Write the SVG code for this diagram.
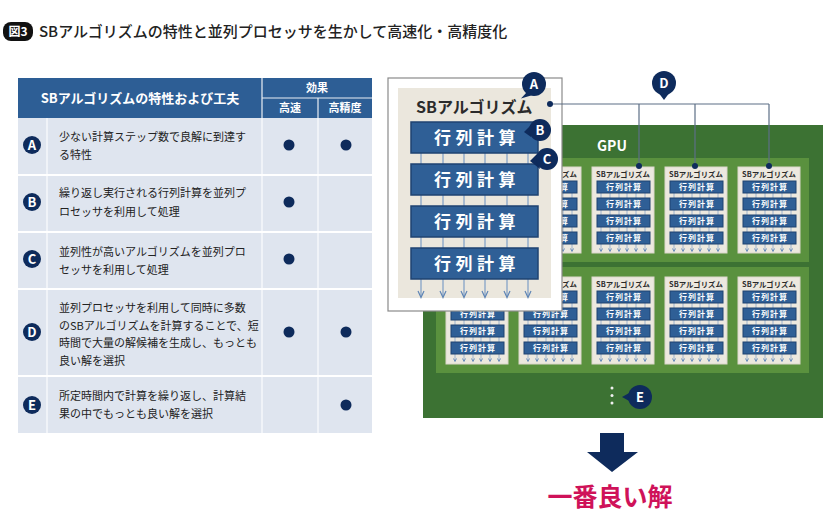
<svg xmlns="http://www.w3.org/2000/svg" xmlns:xlink="http://www.w3.org/1999/xlink" width="840" height="532" viewBox="0 0 840 532">
<style>
text{font-family:"Noto Sans CJK JP","Noto Sans",sans-serif}
.title{font-size:15px;font-weight:500;fill:#222}
.th{fill:#fff;font-weight:700;text-anchor:middle}
.row{font-size:11px;fill:#222}
.navy{fill:#0e2b5c}
.lt{fill:#fff;font-size:13px;font-weight:700;text-anchor:middle}
.dot{fill:#0e2b5c}
.card{fill:#ece8df;stroke:#dcd7cb;stroke-width:1}
.ct{font-size:7.4px;font-weight:700;fill:#2b2b2b;text-anchor:middle}
.mb{fill:#2f5f96;stroke:#1f4371;stroke-width:1}
.mt{font-size:8px;font-weight:700;fill:#fff;text-anchor:middle;letter-spacing:1px}
.bb{fill:#2f5f96;stroke:#1f4371;stroke-width:1.5}
.bt{font-size:17px;font-weight:700;fill:#fff;text-anchor:middle;letter-spacing:4.5px}
.conn{stroke:#5d6f86;stroke-width:1.2;fill:none}
</style>
<defs>
<g id="mini">
<path d="M9 14V84M18 14V84M27 14V84M35 14V84M44 14V84M53 14V84" stroke="#88a4c8" stroke-width="0.8" fill="none"/>
<path d="M7.5 81.5L9 84.5L10.5 81.5M16.5 81.5L18 84.5L19.5 81.5M25.5 81.5L27 84.5L28.5 81.5M33.5 81.5L35 84.5L36.5 81.5M42.5 81.5L44 84.5L45.5 81.5M51.5 81.5L53 84.5L54.5 81.5" stroke="#5f85b5" stroke-width="0.9" fill="none"/>
</g>
</defs>

<g id="title">
<rect x="3" y="22" width="30" height="19" rx="8" fill="#111"/>
<text x="18" y="36" font-size="12" font-weight="700" fill="#fff" text-anchor="middle">図3</text>
<text class="title" x="39" y="37">SBアルゴリズムの特性と並列プロセッサを生かして高速化・高精度化</text>
</g>

<g id="table">
<rect x="18" y="78" width="354" height="40" fill="#2d5e95"/>
<rect x="18" y="118" width="354" height="315" fill="#dfe5ef"/>
<g stroke="#fff" fill="none">
<path d="M262 78V433M262 98H372M318 98V433M47 118V433" stroke-width="1.2" stroke-opacity="0.9"/>
<path d="M18 175H372M18 232H372M18 289H372M18 376H372" stroke-width="2"/>
</g>
<text class="th" x="140" y="103" font-size="13">SBアルゴリズムの特性および工夫</text>
<text class="th" x="317" y="92" font-size="11">効果</text>
<text class="th" x="290" y="112" font-size="11">高速</text>
<text class="th" x="345" y="112" font-size="11">高精度</text>
</g>

<g id="rowA">
<circle class="navy" cx="32" cy="145" r="9"/><text class="lt" x="32" y="149.5">A</text>
<text class="row" x="59" y="141">少ない計算ステップ数で良解に到達す</text>
<text class="row" x="59" y="159">る特性</text>
<circle class="dot" cx="289" cy="145" r="5.5"/><circle class="dot" cx="346" cy="145" r="5.5"/>
</g>
<g id="rowB">
<circle class="navy" cx="32" cy="202" r="9"/><text class="lt" x="32" y="206.5">B</text>
<text class="row" x="59" y="197">繰り返し実行される行列計算を並列プ</text>
<text class="row" x="59" y="216">ロセッサを利用して処理</text>
<circle class="dot" cx="289" cy="202" r="5.5"/>
</g>
<g id="rowC">
<circle class="navy" cx="32" cy="259" r="9"/><text class="lt" x="32" y="263.5">C</text>
<text class="row" x="59" y="256">並列性が高いアルゴリズムを並列プロ</text>
<text class="row" x="59" y="274">セッサを利用して処理</text>
<circle class="dot" cx="289" cy="259" r="5.5"/>
</g>
<g id="rowD">
<circle class="navy" cx="32" cy="332" r="9"/><text class="lt" x="32" y="336.5">D</text>
<text class="row" x="59" y="312">並列プロセッサを利用して同時に多数</text>
<text class="row" x="59" y="330">のSBアルゴリズムを計算することで、短</text>
<text class="row" x="59" y="347">時間で大量の解候補を生成し、もっとも</text>
<text class="row" x="59" y="365">良い解を選択</text>
<circle class="dot" cx="289" cy="332" r="5.5"/><circle class="dot" cx="346" cy="332" r="5.5"/>
</g>
<g id="rowE">
<circle class="navy" cx="32" cy="405" r="9"/><text class="lt" x="32" y="409.5">E</text>
<text class="row" x="59" y="400">所定時間内で計算を繰り返し、計算結</text>
<text class="row" x="59" y="418">果の中でもっとも良い解を選択</text>
<circle class="dot" cx="346" cy="405" r="5.5"/>
</g>

<g id="gpu">
<rect x="423" y="125" width="400" height="293" fill="#3c7233"/>
<rect x="436" y="158" width="373" height="104" fill="#5a913e"/>
<rect x="436" y="267" width="373" height="106" fill="#5a913e"/>
<text x="597" y="151" font-size="14" font-weight="700" fill="#fff">GPU</text>
</g>

<g id="card2" transform="translate(519,167)"><rect class="card" width="62" height="86"/><use href="#mini"/><text class="ct" x="31" y="10">SBアルゴリズム</text><rect class="mb" x="5" y="14" width="53" height="12"/><text class="mt" x="32" y="23">行列計算</text><rect class="mb" x="5" y="31" width="53" height="12"/><text class="mt" x="32" y="40">行列計算</text><rect class="mb" x="5" y="48" width="53" height="12"/><text class="mt" x="32" y="57">行列計算</text><rect class="mb" x="5" y="65" width="53" height="12"/><text class="mt" x="32" y="74">行列計算</text></g>
<g id="card3" transform="translate(592,167)"><rect class="card" width="62" height="86"/><use href="#mini"/><text class="ct" x="31" y="10">SBアルゴリズム</text><rect class="mb" x="5" y="14" width="53" height="12"/><text class="mt" x="32" y="23">行列計算</text><rect class="mb" x="5" y="31" width="53" height="12"/><text class="mt" x="32" y="40">行列計算</text><rect class="mb" x="5" y="48" width="53" height="12"/><text class="mt" x="32" y="57">行列計算</text><rect class="mb" x="5" y="65" width="53" height="12"/><text class="mt" x="32" y="74">行列計算</text></g>
<g id="card4" transform="translate(665,167)"><rect class="card" width="62" height="86"/><use href="#mini"/><text class="ct" x="31" y="10">SBアルゴリズム</text><rect class="mb" x="5" y="14" width="53" height="12"/><text class="mt" x="32" y="23">行列計算</text><rect class="mb" x="5" y="31" width="53" height="12"/><text class="mt" x="32" y="40">行列計算</text><rect class="mb" x="5" y="48" width="53" height="12"/><text class="mt" x="32" y="57">行列計算</text><rect class="mb" x="5" y="65" width="53" height="12"/><text class="mt" x="32" y="74">行列計算</text></g>
<g id="card5" transform="translate(738,167)"><rect class="card" width="62" height="86"/><use href="#mini"/><text class="ct" x="31" y="10">SBアルゴリズム</text><rect class="mb" x="5" y="14" width="53" height="12"/><text class="mt" x="32" y="23">行列計算</text><rect class="mb" x="5" y="31" width="53" height="12"/><text class="mt" x="32" y="40">行列計算</text><rect class="mb" x="5" y="48" width="53" height="12"/><text class="mt" x="32" y="57">行列計算</text><rect class="mb" x="5" y="65" width="53" height="12"/><text class="mt" x="32" y="74">行列計算</text></g>
<g id="card6" transform="translate(446,277)"><rect class="card" width="62" height="87"/><use href="#mini"/><rect class="mb" x="5" y="14" width="53" height="12"/><rect class="mb" x="5" y="31" width="53" height="12"/><text class="mt" x="32" y="40">行列計算</text><rect class="mb" x="5" y="48" width="53" height="12"/><text class="mt" x="32" y="57">行列計算</text><rect class="mb" x="5" y="65" width="53" height="12"/><text class="mt" x="32" y="74">行列計算</text></g>
<g id="card7" transform="translate(519,277)"><rect class="card" width="62" height="87"/><use href="#mini"/><text class="ct" x="31" y="10">SBアルゴリズム</text><rect class="mb" x="5" y="14" width="53" height="12"/><text class="mt" x="32" y="23">行列計算</text><rect class="mb" x="5" y="31" width="53" height="12"/><text class="mt" x="32" y="40">行列計算</text><rect class="mb" x="5" y="48" width="53" height="12"/><text class="mt" x="32" y="57">行列計算</text><rect class="mb" x="5" y="65" width="53" height="12"/><text class="mt" x="32" y="74">行列計算</text></g>
<g id="card8" transform="translate(592,277)"><rect class="card" width="62" height="87"/><use href="#mini"/><text class="ct" x="31" y="10">SBアルゴリズム</text><rect class="mb" x="5" y="14" width="53" height="12"/><text class="mt" x="32" y="23">行列計算</text><rect class="mb" x="5" y="31" width="53" height="12"/><text class="mt" x="32" y="40">行列計算</text><rect class="mb" x="5" y="48" width="53" height="12"/><text class="mt" x="32" y="57">行列計算</text><rect class="mb" x="5" y="65" width="53" height="12"/><text class="mt" x="32" y="74">行列計算</text></g>
<g id="card9" transform="translate(665,277)"><rect class="card" width="62" height="87"/><use href="#mini"/><text class="ct" x="31" y="10">SBアルゴリズム</text><rect class="mb" x="5" y="14" width="53" height="12"/><text class="mt" x="32" y="23">行列計算</text><rect class="mb" x="5" y="31" width="53" height="12"/><text class="mt" x="32" y="40">行列計算</text><rect class="mb" x="5" y="48" width="53" height="12"/><text class="mt" x="32" y="57">行列計算</text><rect class="mb" x="5" y="65" width="53" height="12"/><text class="mt" x="32" y="74">行列計算</text></g>
<g id="card10" transform="translate(738,277)"><rect class="card" width="62" height="87"/><use href="#mini"/><text class="ct" x="31" y="10">SBアルゴリズム</text><rect class="mb" x="5" y="14" width="53" height="12"/><text class="mt" x="32" y="23">行列計算</text><rect class="mb" x="5" y="31" width="53" height="12"/><text class="mt" x="32" y="40">行列計算</text><rect class="mb" x="5" y="48" width="53" height="12"/><text class="mt" x="32" y="57">行列計算</text><rect class="mb" x="5" y="65" width="53" height="12"/><text class="mt" x="32" y="74">行列計算</text></g>

<g id="ellipsis" fill="#f0f0f0">
<circle cx="612" cy="388" r="1.5"/><circle cx="612" cy="395.5" r="1.5"/><circle cx="612" cy="403" r="1.5"/>
</g>

<g id="sb-detail">
<rect x="388" y="78" width="174" height="233" fill="#fff" stroke="#8a8a8a" stroke-width="1.2"/>
<rect x="398" y="88" width="153" height="210" fill="#ebe7dd"/>
<text x="416" y="113" font-size="16" font-weight="700" fill="#2b2b2b">SBアルゴリズム</text>
<path d="M421 153V297M443 153V297M464 153V297M485 153V297M507 153V297M528 153V297" stroke="#7e9ec6" stroke-width="1.2" fill="none"/>
<path d="M418 291L421 297.5L424 291M440 291L443 297.5L446 291M461 291L464 297.5L467 291M482 291L485 297.5L488 291M504 291L507 297.5L510 291M525 291L528 297.5L531 291" stroke="#5f85b5" stroke-width="1.2" fill="none"/>
<rect class="bb" x="411" y="122" width="127" height="31"/><text class="bt" x="477" y="144">行列計算</text>
<rect class="bb" x="411" y="164" width="127" height="31"/><text class="bt" x="477" y="186">行列計算</text>
<rect class="bb" x="411" y="206" width="127" height="31"/><text class="bt" x="477" y="228">行列計算</text>
<rect class="bb" x="411" y="248" width="127" height="31"/><text class="bt" x="477" y="270">行列計算</text>
</g>

<g id="connectors">
<path class="conn" d="M550 104H769M639 104V166M695 104V166M769 104V166"/>
<g class="dot"><circle cx="550" cy="104" r="3"/><circle cx="639" cy="166" r="3"/><circle cx="695" cy="166" r="3"/><circle cx="769" cy="166" r="3"/></g>
</g>

<g id="badgeA"><path class="navy" d="M527 92L521 98.5L531 95.5Z"/><circle class="navy" cx="534" cy="84" r="12"/><text class="lt" x="534" y="89" font-size="14">A</text></g>
<g id="badgeB"><path class="navy" d="M531 125L524 132L531 137Z"/><circle class="navy" cx="540" cy="130" r="11"/><text class="lt" x="540" y="135" font-size="14">B</text></g>
<g id="badgeC"><path class="navy" d="M538 153L530 161L540 169Z"/><circle class="navy" cx="547" cy="159" r="11"/><text class="lt" x="547" y="164" font-size="14">C</text></g>
<g id="badgeD"><path class="navy" d="M658 92L664 100L670 92Z"/><circle class="navy" cx="664" cy="83" r="12"/><text class="lt" x="664" y="88" font-size="14">D</text></g>
<g id="badgeE"><path class="navy" d="M631 392L622 397L631 402Z"/><circle class="navy" cx="640" cy="397" r="12"/><text class="lt" x="640" y="402" font-size="14">E</text></g>

<g id="result">
<path class="navy" d="M600 433H624V452H638L612 472L587 452H600Z"/>
<text x="610" y="506" font-size="25" font-weight="700" fill="#cf1259" text-anchor="middle">一番良い解</text>
</g>
</svg>
